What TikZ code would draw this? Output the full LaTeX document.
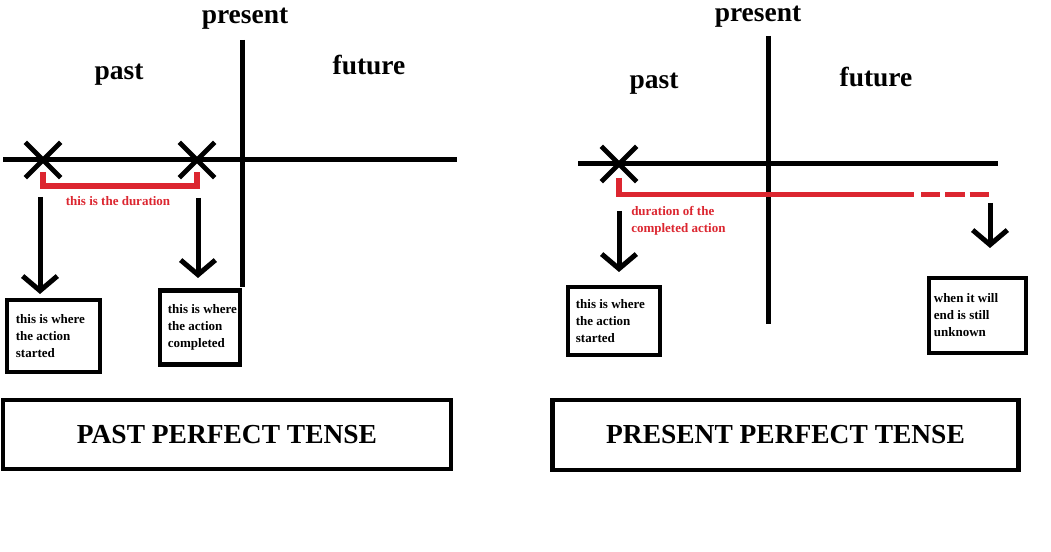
\documentclass[tikz,border=0pt]{standalone}
\usepackage{fontspec}
\setmainfont{Liberation Serif}
\usetikzlibrary{arrows.meta,shapes.misc,calc}
\definecolor{durred}{RGB}{220,38,48}
\begin{document}
\begin{tikzpicture}[x=0.75pt,y=-0.75pt,
  axis/.style={line width=3.75pt},
  xmark/.style={cross out,draw,line width=3.6pt,minimum size=23pt,inner sep=0pt},
  dur/.style={durred,line width=4pt},
  arr/.style={line width=3.75pt,-{Straight Barb[length=11pt,width=26pt]}},
  box/.style={draw,line width=3.6pt,inner sep=0pt},
  boxtext/.style={font=\fontsize{9.75}{12.75}\selectfont\bfseries,align=left,anchor=west,inner sep=0pt},
  big/.style={font=\fontsize{20.6}{24}\selectfont\bfseries},
  durtext/.style={font=\fontsize{9.75}{12.75}\selectfont\bfseries,text=durred,align=left,inner sep=0pt},
  title/.style={draw,line width=3.6pt,font=\fontsize{20.6}{24}\selectfont\bfseries}]
\useasboundingbox[fill=white] (0,0) rectangle (1051,552);

% ---------- LEFT: past perfect ----------
\node[big] (present1) at (245,19) {present};
\node[big] (past1) at (119,75) {past};
\node[big] (future1) at (369,65) {future};
\coordinate (v1t) at (242,40);
\coordinate (v1b) at (242,287);
\coordinate (h1l) at (3,160);
\coordinate (h1r) at (457,160);
\draw[axis] (v1t) -- (v1b);
\draw[axis] (h1l) -- (h1r);
\node[xmark] (x1) at (43,160) {};
\node[xmark] (x2) at (197,160) {};
\coordinate (d1a) at (43,172);
\coordinate (d1b) at (197,172);
\draw[dur] (d1a) -- ($(d1a)+(0,14)$) -| (d1b);
\node[durtext] (dur1) at (118,201) {this is the duration};
\coordinate (a1s) at (40,197);
\coordinate (a1e) at (40,294);
\coordinate (a2s) at (198,198);
\coordinate (a2e) at (198,278);
\draw[arr] (a1s) -- (a1e);
\draw[arr] (a2s) -- (a2e);
\node[box,minimum width=69.75pt,minimum height=54pt] (b1) at (53.5,336) {};
\node[boxtext] (t1) at ($(b1.west)+(11,0)$) {this is where\\the action\\started};
\node[box,minimum width=60pt,minimum height=56pt] (b2) at (200,327.5) {};
\node[boxtext] (t2) at ($(b2.west)+(10,0)$) {this is where\\the action\\completed};
\node[title,minimum width=336pt,minimum height=51.75pt] (title1) at (227,434.5) {PAST PERFECT TENSE};

% ---------- RIGHT: present perfect ----------
\node[big] (present2) at (758,17) {present};
\node[big] (past2) at (654,84) {past};
\node[big] (future2) at (876,77) {future};
\coordinate (v2t) at (768,36);
\coordinate (v2b) at (768,324);
\coordinate (h2l) at (578,164);
\coordinate (h2r) at (998,164);
\draw[axis] (v2t) -- (v2b);
\draw[axis] (h2l) -- (h2r);
\node[xmark] (x3) at (619,164) {};
\coordinate (d2a) at (619,178);
\coordinate (d2b) at (914,194.5);
\coordinate (d2c) at (921,194.5);
\coordinate (d2d) at (990,194.5);
\draw[dur] (d2a) |- (d2b);
\draw[dur,dash pattern=on 14.5pt off 3.75pt] (d2c) -- (d2d);
\node[durtext,anchor=north west] (dur2) at (631,206) {duration of the\\completed action};
\coordinate (a3s) at (619,211);
\coordinate (a3e) at (619,272);
\coordinate (a4s) at (990,203);
\coordinate (a4e) at (990,248);
\draw[arr] (a3s) -- (a3e);
\draw[arr] (a4s) -- (a4e);
\node[box,minimum width=69pt,minimum height=51pt] (b3) at (614,321) {};
\node[boxtext] (t3) at ($(b3.west)+(10,0)$) {this is where\\the action\\started};
\node[box,minimum width=72.75pt,minimum height=56.25pt] (b4) at (977.5,315.5) {};
\node[boxtext] (t4) at ($(b4.west)+(7,0)$) {when it will\\end is still\\unknown};
\node[title,minimum width=350pt,minimum height=52.5pt] (title2) at (785.5,435) {PRESENT PERFECT TENSE};
\end{tikzpicture}
\end{document}
